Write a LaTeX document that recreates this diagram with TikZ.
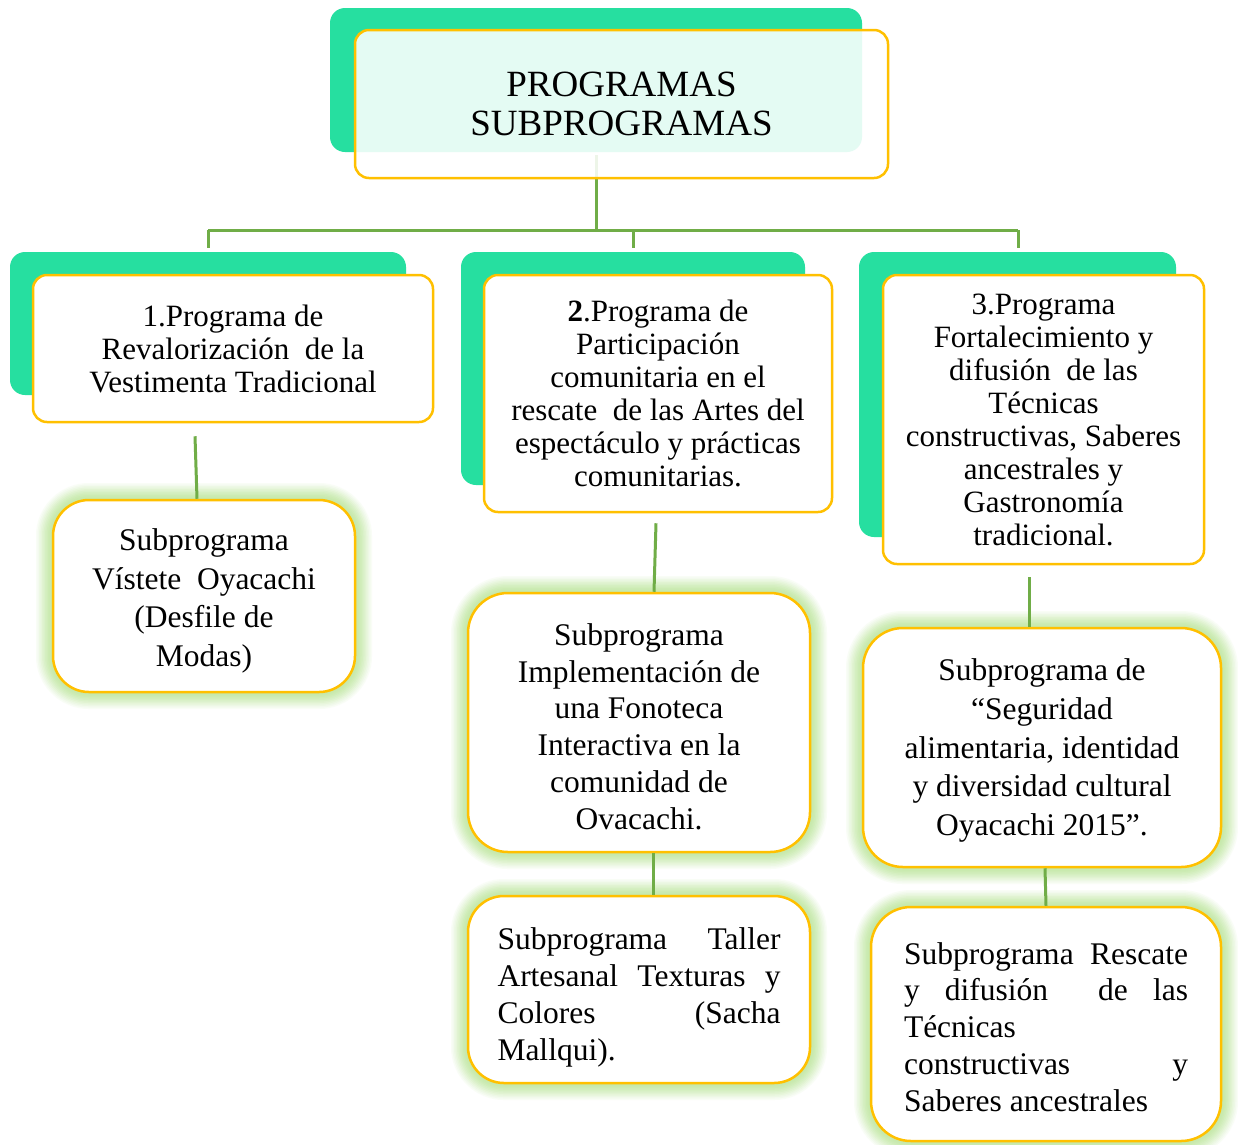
\documentclass[tikz,border=0pt]{standalone}
\usepackage{fontspec}
\setmainfont{Liberation Serif}
\definecolor{tabc}{RGB}{38,223,160}
\definecolor{framec}{RGB}{255,192,0}
\definecolor{linkc}{RGB}{112,173,71}
\definecolor{glowc}{RGB}{150,214,100}
\begin{document}
\begin{tikzpicture}[x=1pt,y=-1pt,
  link/.style={draw=linkc, line width=3pt},
  backtab/.style={fill=tabc, rounded corners=15pt},
  boxbase/.style={draw=framec, line width=2.5pt, fill=white, inner sep=0pt, align=center},
  prog/.style={boxbase, rounded corners=14pt, font=\fontsize{31}{33}\selectfont},
  gl/.style 2 args={preaction={draw=glowc!#2, line width=#1}},
  glow/.style={gl={34pt}{6}, gl={31pt}{11}, gl={28pt}{17}, gl={25pt}{23},
               gl={22pt}{29}, gl={19pt}{35}, gl={16pt}{40}, gl={13pt}{45},
               gl={10pt}{49}, gl={7pt}{52}, gl={4pt}{54}},
  subbox/.style={boxbase, glow, rounded corners=36pt},
  subtext/.style={inner sep=0pt, align=center, font=\fontsize{31.5}{38.6}\selectfont},
  subtextb/.style={subtext, font=\fontsize{31.5}{36.8}\selectfont},
]
\useasboundingbox (0,0) rectangle (1238,1144);
\fill[white] (0,0) rectangle (1238,1144);

% ---- root ----
\fill[backtab] (330,8) rectangle (862,152);
\coordinate (hub) at (596,230);
\draw[link] (596,155) -- (hub);
\node[boxbase, rounded corners=14pt, fill opacity=0.88, text opacity=1,
      minimum width=533pt, minimum height=148pt,
      font=\fontsize{37}{39}\selectfont] (root) at (621.5,104)
  {PROGRAMAS\\SUBPROGRAMAS};

% ---- distribution bar ----
\coordinate (d1) at (208,248);
\coordinate (d2) at (633,248);
\coordinate (d3) at (1018,248);
\draw[link] (d1 |- hub) -- (d3 |- hub);
\draw[link] (d1 |- hub) -- (d1);
\draw[link] (d2 |- hub) -- (d2);
\draw[link] (d3 |- hub) -- (d3);

% ---- programs ----
\fill[backtab] (10,252) rectangle (406,395);
\node[prog, minimum width=400pt, minimum height=147pt] (p1) at (233,348.5)
  {1.Programa de\\Revalorización \ de la\\Vestimenta Tradicional};

\fill[backtab] (461,252) rectangle (805,485);
\node[prog, minimum width=348pt, minimum height=237pt] (p2) at (658,393.5)
  {\textbf{2}.Programa de\\Participación\\comunitaria en el\\rescate \ de las Artes del\\espectáculo y prácticas\\comunitarias.};

\fill[backtab] (859,252) rectangle (1176,537);
\node[prog, minimum width=321pt, minimum height=289pt] (p3) at (1043.5,419.5)
  {3.Programa\\Fortalecimiento y\\difusión \ de las\\Técnicas\\constructivas, Saberes\\ancestrales y\\Gastronomía\\tradicional.};

% ---- subprogram frames ----
\node[subbox, minimum width=302pt, minimum height=192pt] (s1) at (204,596) {};
\node[subbox, rounded corners=40pt, minimum width=342pt, minimum height=259pt] (s2) at (639,722.5) {};
\node[subbox, minimum width=342pt, minimum height=187pt] (s3) at (639,989.5) {};
\node[subbox, rounded corners=40pt, minimum width=358pt, minimum height=239pt] (s4) at (1042,747.5) {};
\node[subbox, rounded corners=40pt, minimum width=350pt, minimum height=234pt] (s5) at (1046,1024) {};

% ---- subprogram texts ----
\node[subtext] (s1t) at ([yshift=-5pt]s1.center)
  {Subprograma\\Vístete \ Oyacachi\\(Desfile de\\Modas)};
\node[subtextb] (s2t) at ([yshift=-4pt]s2.center)
  {Subprograma\\Implementación de\\una Fonoteca\\Interactiva en la\\comunidad de\\Ovacachi.};
\node[subtextb, align=left] (s3t) at ([yshift=-8pt]s3.center)
  {\makebox[283pt][s]{Subprograma Taller}\\
   \makebox[283pt][s]{Artesanal Texturas y}\\
   \makebox[283pt][s]{Colores (Sacha}\\
   Mallqui).};
\node[subtext] (s4t) at ([yshift=-3pt]s4.center)
  {Subprograma de\\“Seguridad\\alimentaria, identidad\\y diversidad cultural\\Oyacachi 2015”.};
\node[subtextb, align=left] (s5t) at ([yshift=-3pt]s5.center)
  {\makebox[284pt][s]{Subprograma Rescate}\\
   \makebox[284pt][s]{y difusión \ de las}\\
   Técnicas\\
   \makebox[284pt][s]{constructivas y}\\
   Saberes ancestrales};

% ---- connectors ----
\draw[link] ([xshift=-38pt,yshift=-13pt]p1.south) -- ([xshift=-7pt]s1.north);
\draw[link] ([xshift=-2pt,yshift=-10pt]p2.south) -- ([xshift=15pt]s2.north);
\draw[link] ([xshift=-14.5pt,yshift=-12pt]p3.south) -- ([xshift=-13pt]s4.north);
\draw[link] ([xshift=14pt]s2.south) -- ([xshift=14pt]s3.north);
\draw[link] ([xshift=3pt]s4.south) -- (s5.north);
\end{tikzpicture}
\end{document}
